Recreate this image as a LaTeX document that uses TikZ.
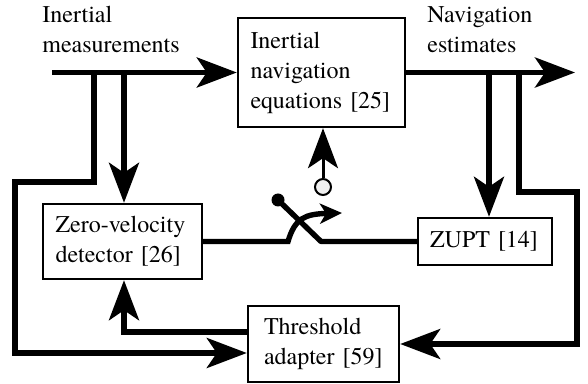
\documentclass[tikz,border=0pt]{standalone}
\usepackage{fontspec}
\setmainfont{texgyretermes-regular.otf}
\usetikzlibrary{calc,arrows.meta,positioning}

\tikzset{
  blk/.style={draw,line width=1.2pt,align=left,font=\fontsize{12}{15}\selectfont},
  lbl/.style={align=left,inner sep=0pt,font=\fontsize{12}{15}\selectfont},
  sig/.style={line width=2.7pt},
  big/.style={-{Stealth[length=20pt,width=15pt,inset=5pt]}},
}

\begin{document}
\begin{tikzpicture}[x=0.5pt,y=-0.5pt]
        \useasboundingbox(0,0) rectangle (588,384);
        % blocks
        \node[blk,text width=71pt,inner xsep=6.25pt,minimum height=54.5pt](nav) at (321.5,72.5){Inertial\\navigation\\equations [25]};
        \node[blk,text width=67pt,inner xsep=6.25pt,minimum height=37.5pt](zvd) at (122.5,241.5){Zero-velocity\\detector [26]};
        \node[blk,text width=55pt,inner xsep=6pt,minimum height=23.5pt](zupt) at (485,241.5){ZUPT [14]};
        \node[blk,text width=59.5pt,inner xsep=8pt,minimum height=38pt](thr) at (323.5,344){Threshold\\adapter [59]};
        \node[lbl,anchor=base west](imu) at (42,53){Inertial\\measurements};
        \node[lbl,anchor=base west](est) at (427,53){Navigation\\estimates};
        % signal lines
        \coordinate(in) at (52,72.5);
        \coordinate(out) at (575,72.5);
        \coordinate(b1) at (94,72.5);
        \coordinate(b2) at (124,72.5);
        \coordinate(b3) at (489,72.5);
        \coordinate(b4) at (519,72.5);
        \draw[sig,big](in)--(nav.west);
        \draw[sig,big](nav.east)--(out);
        \draw[sig,big](b2)--(b2|-zvd.north);
        \draw[sig,big](b3)--(b3|-zupt.north);
        \draw[sig,big](b1)--(94,182)--(15,182)--(15,353)--([yshift=-4.5pt]thr.west);
        \draw[sig,big](b4)--(519,192)--(577,192)--(577,344)--(thr.east);
        \draw[sig,big]([yshift=6pt]thr.west)-|(zvd.south-|b2);
        % switch
        \node[circle,fill,inner sep=0pt,minimum size=6.5pt](sw) at (278,200){};
        \coordinate(pivot) at (321,241.5);
        \draw[sig,line join=round](sw.center)--(pivot)--(zupt.west);
        \draw[sig,-{Stealth[length=11pt,width=10pt,inset=3pt]}](zvd.east)--(288,241.5)..controls (295,218) and (305,214)..(342,213);
        \node[circle,draw,line width=1pt,fill=gray!12,inner sep=0pt,minimum size=8pt](tap) at (323,187){};
        \draw[line width=1.5pt,big](tap.north)--(tap|-nav.south);
    \end{tikzpicture}
\end{document}
